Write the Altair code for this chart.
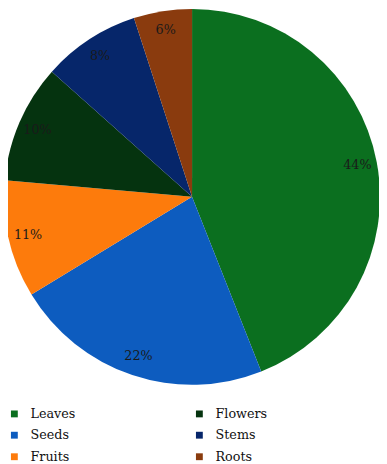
import altair as alt
import pandas as pd

parts = ["Leaves", "Seeds", "Fruits", "Flowers", "Stems", "Roots"]
shares = [44.0, 22.3, 10.1, 10.2, 8.4, 5.0]
labels = ["44%", "22%", "11%", "10%", "8%", "6%"]
colors = ["#0b6f1f", "#0d5cbf", "#fd7b0c", "#05330f", "#06266a", "#8a3b0e"]

df = pd.DataFrame({
    "part": parts,
    "share": shares,
    "label": labels,
    "order": list(range(len(parts))),
})

FONT = "DejaVu Serif"

base = alt.Chart(df).encode(
    theta=alt.Theta("share:Q", stack=True),
    order=alt.Order("order:O"),
)

pie = base.mark_arc(outerRadius=192, x=188, y=188).encode(
    color=alt.Color(
        "part:N",
        sort=parts,
        scale=alt.Scale(domain=parts, range=colors),
        legend=alt.Legend(
            title=None,
            orient="none",
            legendX=0,
            legendY=403,
            columns=2,
            columnPadding=120,
            rowPadding=8,
            symbolType="square",
            symbolSize=49,
            symbolStrokeWidth=0,
            labelFont=FONT,
            labelFontSize=13,
            labelColor="#111111",
            labelOffset=10,
        ),
    )
)

text = base.mark_text(
    radius=172, x=188, y=188, font=FONT, fontSize=13, color="#1a1a1a"
).encode(text="label:N")

chart = (
    (pie + text)
    .properties(width=379, height=456, padding=0, autosize=alt.AutoSizeParams(type="none"))
    .configure_view(stroke=None)
    .configure(font=FONT)
)

chart.save("out.html", embed_options={"renderer": "svg", "actions": False})
